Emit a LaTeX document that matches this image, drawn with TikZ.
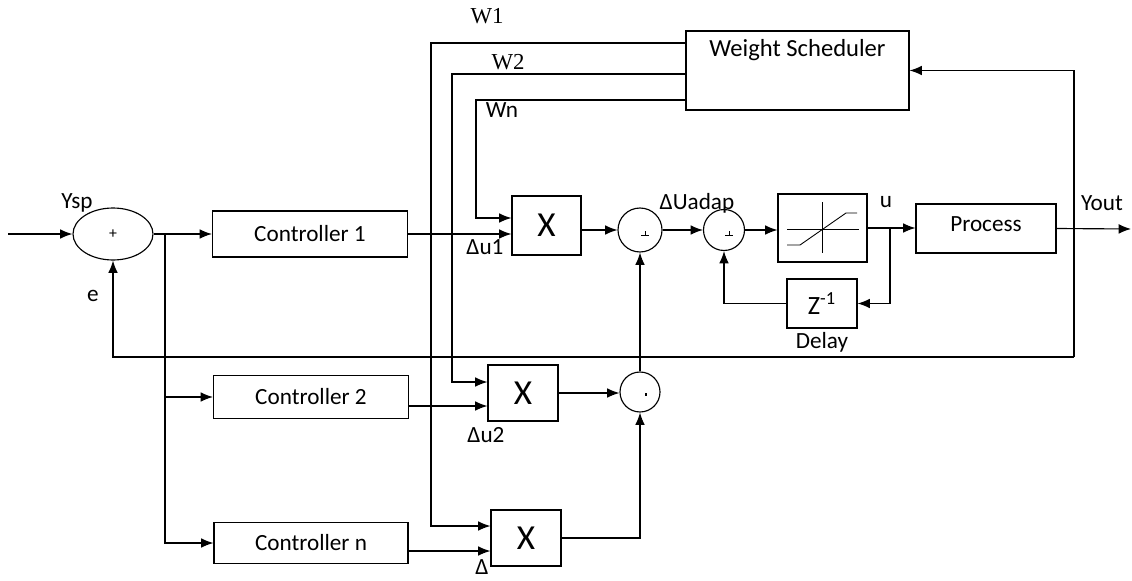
\documentclass[tikz,border=0pt]{standalone}
\usepackage{fontspec}
\setmainfont{Carlito}
\newfontfamily\wfont{Liberation Serif}
\usetikzlibrary{shapes.geometric, arrows.meta, positioning}

\begin{document}
\begin{tikzpicture}[x=0.02cm, y=-0.02cm, line width=0.65pt,
  blk/.style={draw, rectangle, inner sep=0pt, font=\fontsize{13.2}{15}\selectfont},
  sumc/.style={draw, circle, inner sep=0pt},
  lbl/.style={font=\fontsize{13.2}{15}\selectfont, inner sep=0pt},
  wlbl/.style={font=\wfont\fontsize{13}{15}\selectfont, inner sep=0pt},
  arr/.style={-{Latex[length=7pt,width=5.5pt]}}]
 \useasboundingbox (0,0) rectangle (1132,581);

 % summing point and controllers
 \node[draw, ellipse, minimum width=1.6cm, minimum height=1.04cm, inner sep=0pt, font=\fontsize{9}{10}\selectfont] (sum0) at (113,234) {+};
 \node[blk, minimum width=3.9cm, minimum height=0.92cm] (ctrl1) at (310,234) {Controller 1};
 \node[blk, minimum width=3.9cm, minimum height=0.86cm] (ctrl2) at (311,397) {Controller 2};
 \node[blk, minimum width=3.88cm, minimum height=0.82cm] (ctrln) at (311,543) {Controller n};

 % weight scheduler and multipliers
 \node[blk, minimum width=4.46cm, minimum height=1.58cm] (ws) at (797.5,70.5) {};
 \path (ws.north) ++(0,20) node[lbl, font=\fontsize{14}{16}\selectfont] (wstxt) {Weight Scheduler};
 \node[blk, minimum width=1.38cm, minimum height=1.18cm, font=\fontsize{20}{22}\selectfont] (x1) at (546.5,225.5) {X};
 \node[blk, minimum width=1.4cm, minimum height=1.12cm, font=\fontsize{20}{22}\selectfont] (x2) at (523,393) {X};
 \node[blk, minimum width=1.4cm, minimum height=1.12cm, font=\fontsize{20}{22}\selectfont] (x3) at (526,538) {X};

 \node[sumc, minimum size=0.88cm] (s1) at (640,230) {};
 \node[sumc, minimum size=0.82cm] (s2) at (724,230) {};
 \node[sumc, minimum size=0.8cm] (s3) at (640,392) {};
 \foreach \s in {s1,s2} {
  \draw[line width=0.5pt] ([shift={(1,5)}]\s.center) --++ (8,0) ([shift={(5,5)}]\s.center) --++ (0,-4);
 }
 \draw[line width=0.8pt] ([shift={(6,1)}]s3.center) --++ (0,3);

 % saturation, delay, process
 \node[blk, minimum width=1.78cm, minimum height=1.36cm] (sat) at (822.5,228) {};
 \draw[line width=0.5pt] (787,229) -- (859,229) (822,202) -- (822,253);
 \draw[line width=0.5pt] (787,245) -- (800,245) -- (846,213) -- (857,213);
 \node[blk, minimum width=1.4cm, minimum height=0.98cm, font=\fontsize{15}{17}\selectfont] (delay) at (822,303.5) {Z\textsuperscript{-1}};
 \node[blk, minimum width=2.8cm, minimum height=0.98cm, text depth=5pt] (proc) at (986,228.5) {Process};

 % connections
 \coordinate (in) at (8,234);
 \coordinate (br) at (165,234);
 \coordinate (ub) at (890,229);
 \coordinate (out) at (1131,229);
 \coordinate (fb) at (1074,357);
 \draw[arr] (in) -- (sum0.west);
 \draw[arr] (sum0.east) -- (ctrl1.west);
 \draw[arr] (br) |- (ctrl2.west);
 \draw[arr] (br) |- (ctrln.west);
 \draw[arr] (ctrl1.east) -- (ctrl1.east -| x1.west);
 \draw[arr] (ctrl2.east |- 0,406) -- (x2.west |- 0,406);
 \draw[arr] (ctrln.east |- 0,551) -- (x3.west |- 0,551);

 \draw[arr] (ws.west |- 0,43) -| (431,526) -- (x3.west |- 0,526);
 \draw[arr] (ws.west |- 0,74) -| (452,382) -- (x2.west |- 0,382);
 \draw[arr] (ws.west |- 0,100) -| (476,218) -- (x1.west |- 0,218);

 \draw[arr] (x1.east |- s1.west) -- (s1.west);
 \draw[arr] (s1.east) -- (s2.west);
 \draw[arr] (s2.east) -- (s2.east -| sat.west);
 \draw[arr] (sat.east) -- (sat.east -| proc.west);
 \draw[arr] (ub) |- (delay.east);
 \draw[arr] (delay.west) -| (s2.south);
 \draw[arr] (proc.east) -- (out);
 \draw[arr] (x2.east) -- (x2.east -| s3.west);
 \draw[arr] (x3.east) -| (s3.south);
 \draw[arr] (s3.north) -- (s1.south);
 \draw[arr] (fb) |- (ws.east);
 \draw[arr] (fb) -| (sum0.south);

 % labels
 \node[lbl] (ysp) at (77,203) {Ysp};
 \node[lbl] (elbl) at (93,296) {e};
 \node[lbl] (du1) at (485,247) {Δu1};
 \node[lbl] (du2) at (486,435) {Δu2};
 \node[lbl] (dun) at (482,567) {Δ};
 \node[lbl] (duadap) at (697,203) {ΔUadap};
 \node[lbl] (ulbl) at (886,202) {u};
 \node[lbl] (yout) at (1102,203) {Yout};
 \node[lbl] (dlbl) at (822,342) {Delay};
 \node[wlbl] (w1) at (487,16) {W1};
 \node[wlbl] (w2) at (508,62) {W2};
 \node[lbl] (wn) at (502,110) {Wn};
\end{tikzpicture}
\end{document}
